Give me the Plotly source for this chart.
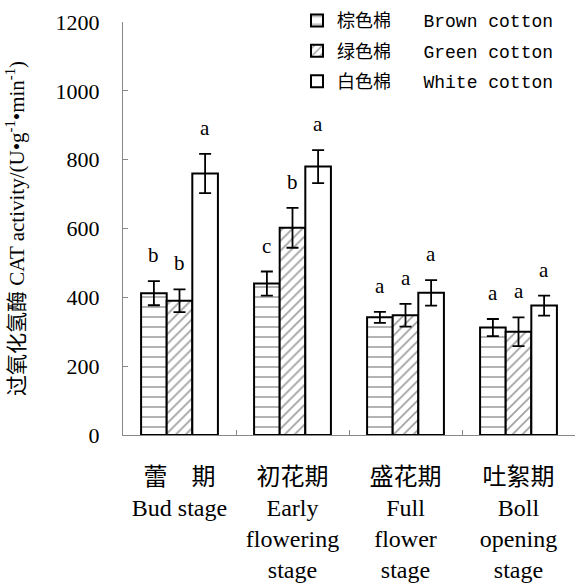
import plotly.graph_objects as go

# Growth stages (Chinese name + English name)
stages_cn = ["蕾\u3000期", "初花期", "盛花期", "吐絮期"]
stages_en = ["Bud stage", "Early<br>flowering<br>stage", "Full<br>flower<br>stage", "Boll<br>opening<br>stage"]

# CAT activity (U·g-1·min-1), mean and standard error
brown = [412, 440, 342, 312]
brown_err = [35, 35, 16, 25]
green = [390, 602, 348, 300]
green_err = [33, 58, 33, 42]
white = [760, 780, 413, 376]
white_err = [57, 48, 37, 29]

# Significance letters
brown_sig = ["b", "c", "a", "a"]
green_sig = ["b", "b", "a", "a"]
white_sig = ["a", "a", "a", "a"]

series_names = ["棕色棉\u00a0\u00a0\u00a0Brown cotton",
                "绿色棉\u00a0\u00a0\u00a0Green cotton",
                "白色棉\u00a0\u00a0\u00a0White cotton"]

categories = [f"{cn}<br>{en}" for cn, en in zip(stages_cn, stages_en)]

SERIF = "Liberation Serif, Times New Roman, Noto Sans CJK SC"
MONO = "Liberation Mono, Courier New, Noto Sans CJK SC"

patterns = [
    dict(shape="-", size=10, solidity=0.15, fgcolor="#333333", bgcolor="white"),
    dict(shape="/", size=7, solidity=0.25, fgcolor="#444444", bgcolor="white"),
    dict(shape="", bgcolor="white"),
]

fig = go.Figure()
for name, vals, errs, pat in zip(series_names,
                                 [brown, green, white],
                                 [brown_err, green_err, white_err],
                                 patterns):
    fig.add_trace(go.Bar(
        x=categories, y=vals, name=name, legendgroup=name,
        marker=dict(color="white", pattern=pat,
                    line=dict(color="black", width=2)),
        error_y=dict(type="data", array=errs, color="black",
                     thickness=1.8, width=6),
    ))

bargap = 0.32
bar_w = (1 - bargap) / 3

# Significance letters above the error bars
annotations = []
for j, (vals, errs, sig) in enumerate(zip([brown, green, white],
                                          [brown_err, green_err, white_err],
                                          [brown_sig, green_sig, white_sig])):
    for i in range(len(categories)):
        annotations.append(dict(
            x=i + (j - 1) * bar_w, y=vals[i] + errs[i],
            xref="x", yref="y", text=sig[i], showarrow=False,
            yanchor="bottom", yshift=12,
            font=dict(family=SERIF, size=21, color="black"),
        ))

fig.update_layout(
    width=577, height=585,
    margin=dict(l=123, r=2, t=22, b=150),
    plot_bgcolor="white", paper_bgcolor="white",
    barmode="group", bargap=bargap, bargroupgap=0,
    font=dict(family=SERIF, color="black"),
    showlegend=True,
    legend=dict(
        x=0.385, y=1.048, xanchor="left", yanchor="top",
        font=dict(family=MONO, size=18, color="black"),
        bgcolor="rgba(0,0,0,0)", tracegroupgap=4,
        traceorder="grouped",
    ),
    annotations=annotations,
)

fig.update_xaxes(
    type="category", tickson="boundaries", ticks="inside", ticklen=5,
    tickcolor="#888888", showline=True, linecolor="#888888", linewidth=1,
    tickfont=dict(family=SERIF, size=24, color="black"),
    ticklabelstandoff=20,
    showgrid=False, zeroline=False,
)
fig.update_yaxes(
    range=[0, 1200], dtick=200, ticks="inside", ticklen=5,
    tickcolor="#888888", showline=True, linecolor="#888888", linewidth=1,
    tickfont=dict(family=SERIF, size=22, color="black"),
    ticklabelstandoff=18,
    showgrid=False, zeroline=False,
    title=dict(text="过氧化氢酶 CAT activity/(U•g<sup>-1</sup>•min<sup>-1</sup>)",
               font=dict(family=SERIF, size=21, color="black"), standoff=25),
)

fig.write_html("out.html")
